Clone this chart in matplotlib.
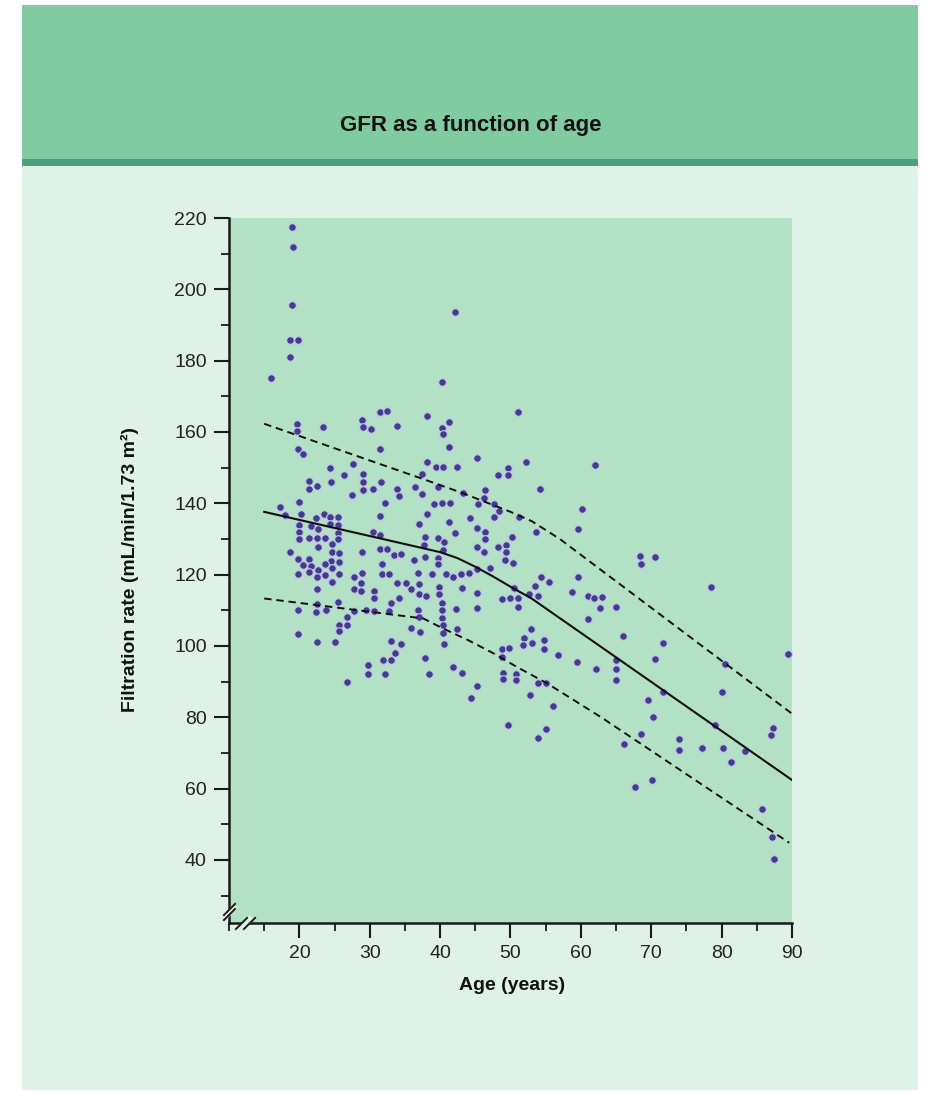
import matplotlib
matplotlib.use('Agg')
from matplotlib import pyplot as plt
from matplotlib.patches import Rectangle
from matplotlib.ticker import MultipleLocator

plt.rcParams['font.family'] = ['Liberation Sans', 'DejaVu Sans']

# scatter points: age (years) and GFR (mL/min/1.73 m2)
age = [
    19.0, 19.1, 19.0, 18.7, 19.8, 18.6, 16.0, 42.1,
    31.5, 32.5, 38.2, 19.7, 19.7, 23.3, 28.9, 29.0, 30.2, 33.9,
    19.8, 20.5, 31.5, 38.1, 27.6, 24.4, 26.4, 29.0, 29.0, 29.0,
    37.4, 21.3, 21.4, 22.5, 24.5, 31.6, 30.4, 33.9, 34.1, 36.4,
    37.4, 27.5, 19.9, 32.2, 17.3, 18.0, 20.2, 23.5, 22.3, 24.4,
    25.5, 24.4, 25.5, 31.5, 38.2, 19.9, 19.9, 19.9, 21.7, 22.6,
    25.5, 37.0, 30.5, 31.5, 21.4, 22.5, 23.6, 25.5, 37.8,
    24.7, 22.6, 31.4, 32.5, 37.7, 18.6, 28.9, 24.7, 25.6, 33.5,
    34.4, 19.8, 21.4, 36.3, 37.8, 24.5, 25.6, 20.5, 21.6, 23.6,
    31.7, 24.7, 21.4, 22.6, 19.8, 23.7, 22.5, 25.6, 27.7, 28.9,
    31.7, 32.8, 36.9, 24.6, 28.7, 33.9, 35.1, 37.0, 22.5, 27.7,
    28.7, 30.6, 35.9, 37.0, 38.0, 30.6, 34.2, 25.5, 22.5, 33.0,
    19.8, 22.4, 23.8, 27.8, 29.4, 30.6, 32.8, 36.9, 37.0, 26.7,
    25.6, 26.7, 25.7, 35.9, 37.1, 19.8, 22.5, 25.1, 33.0, 34.5,
    33.6, 31.9, 33.0, 37.8, 29.7, 29.7, 32.2, 38.4, 26.7,
    40.2, 51.1, 41.3, 40.2, 40.4, 41.3, 45.3, 39.4, 40.4, 42.4,
    52.2, 62.0, 49.6, 49.7, 48.2, 39.7, 43.2, 46.4, 46.3, 45.4,
    54.2, 39.2, 40.2, 41.4, 47.6, 48.3, 60.2, 44.3, 47.7, 51.2,
    41.3, 45.3, 46.4, 46.4, 42.1, 53.6, 59.6, 50.2, 39.7, 40.6,
    40.4, 45.3, 48.2, 49.3, 49.3, 46.3,
    49.2, 50.3, 39.7, 39.7, 47.1, 38.8, 40.8, 41.9, 43.0, 44.1,
    45.3, 39.8, 39.8, 43.1, 45.3, 50.5, 48.8, 50.0, 51.1, 51.0,
    52.6, 53.9, 53.5, 54.4, 55.4, 59.6, 58.8, 61.0, 61.8, 62.7,
    40.3, 40.3, 40.3, 40.4, 40.4, 42.2, 45.2, 42.4, 61.0, 40.5,
    52.9, 51.9, 51.8, 53.1, 54.8, 54.8, 48.8, 49.8, 48.8, 56.8,
    59.5, 62.1, 41.9, 43.1, 49.0, 49.0, 50.8, 50.8, 53.9, 55.0,
    45.3, 44.4, 52.7, 56.1, 49.7, 55.0, 53.9,
    68.4, 68.6, 70.5, 63.0, 78.5,
    65.0, 66.0, 71.7, 89.4, 65.0, 65.0, 65.0, 70.6, 80.5, 71.6,
    80.0, 69.5, 70.3, 79.1, 87.3, 87.0, 68.5, 66.1, 73.9, 74.0,
    77.2, 80.2, 83.3, 81.4, 70.1, 67.7, 85.7, 87.1, 87.4,
]
gfr = [
    217.5, 211.8, 195.5, 185.8, 185.8, 180.9, 175.1, 193.6,
    165.7, 165.9, 164.5, 162.1, 160.4, 161.5, 163.4, 161.5, 160.7, 161.8,
    155.1, 153.7, 155.1, 151.7, 150.9, 149.8, 147.9, 148.1, 145.9, 143.7,
    148.2, 146.3, 144.1, 144.9, 146.0, 146.1, 144.0, 144.1, 142.1, 144.5,
    142.5, 142.2, 140.4, 140.2, 139.0, 136.7, 137.0, 137.1, 136.0, 136.2,
    136.2, 134.2, 133.9, 136.4, 137.0, 133.9, 132.0, 129.9, 133.6, 132.7,
    131.8, 134.2, 132.0, 131.1, 130.2, 130.2, 130.2, 129.9, 130.6,
    128.5, 127.8, 127.1, 127.1, 128.3, 126.4, 126.4, 126.2, 126.0, 125.5,
    125.8, 124.3, 124.3, 124.1, 125.0, 123.9, 123.5, 122.6, 122.4, 122.9,
    123.1, 121.8, 120.8, 121.3, 120.2, 119.8, 119.3, 120.1, 119.4, 120.4,
    120.1, 120.1, 120.4, 118.0, 117.6, 117.7, 117.7, 117.4, 115.9, 116.0,
    115.4, 115.5, 115.9, 114.5, 114.0, 113.3, 113.5, 112.2, 111.7, 112.0,
    110.1, 109.6, 110.0, 109.8, 110.1, 109.8, 109.8, 110.1, 108.0, 108.0,
    105.9, 105.9, 104.3, 105.1, 104.0, 103.3, 101.2, 101.2, 101.4, 100.5,
    97.9, 96.1, 96.1, 96.5, 94.7, 92.1, 92.1, 92.1, 90.0,
    174.1, 165.5, 162.7, 161.0, 159.3, 155.9, 152.8, 150.1, 150.1, 150.1,
    151.5, 150.7, 150.0, 147.9, 147.9, 144.5, 143.0, 143.7, 141.4, 139.7,
    144.0, 139.7, 140.2, 140.0, 139.7, 137.9, 138.5, 136.0, 136.1, 136.1,
    134.8, 133.0, 131.9, 129.9, 131.6, 132.0, 132.9, 130.5, 130.2, 129.1,
    126.9, 127.8, 127.8, 128.2, 126.2, 126.2,
    124.1, 123.3, 124.6, 122.9, 121.9, 120.2, 120.2, 119.3, 120.2, 120.5,
    121.5, 116.6, 114.5, 116.3, 114.8, 116.2, 113.2, 113.5, 113.5, 111.0,
    114.5, 114.0, 116.9, 119.4, 118.0, 119.4, 115.2, 114.0, 113.5, 110.7,
    112.0, 110.1, 107.8, 105.9, 103.7, 110.4, 110.6, 104.7, 107.6, 100.5,
    104.8, 102.3, 100.3, 100.8, 101.7, 99.2, 99.2, 99.4, 96.8, 97.5,
    95.6, 93.5, 94.2, 92.5, 92.5, 90.7, 92.1, 90.5, 89.7, 89.7,
    88.9, 85.5, 86.3, 83.2, 77.7, 76.8, 74.3,
    125.3, 123.0, 124.9, 113.8, 116.5,
    110.8, 102.9, 100.8, 97.8, 96.1, 93.5, 90.5, 96.4, 94.9, 87.0,
    87.1, 84.9, 80.0, 77.8, 77.1, 75.0, 75.3, 72.5, 73.8, 70.8,
    71.4, 71.4, 70.4, 67.5, 62.4, 60.4, 54.4, 46.5, 40.2,
]

# fitted mean and the two dashed bounds
mean_age = [15, 40, 42.5, 45, 47.5, 50, 53, 90]
mean_gfr = [137.6, 126.3, 124.6, 122.2, 119.5, 116.6, 113.3, 62.4]
upper_age = [15, 37, 43, 50, 53, 57, 90]
upper_gfr = [162.3, 147.2, 143.0, 137.6, 135.0, 130.0, 81.0]
lower_age = [15, 37.6, 40.4, 44, 47.6, 51, 55.2, 62.8, 89.6]
lower_gfr = [113.3, 107.7, 104.9, 101.6, 97.9, 94.0, 89.5, 80.1, 44.8]

x_ticks = [20, 30, 40, 50, 60, 70, 80, 90]
y_ticks = [40, 60, 80, 100, 120, 140, 160, 180, 200, 220]

title = 'GFR as a function of age'
x_label = 'Age (years)'
y_label = 'Filtration rate (mL/min/1.73 m\u00b2)'

W, H = 928, 1093
PANEL = '#dff2e7'


def px_box(x0, y0, x1, y1):
    # pixel box (top-left origin) -> figure fraction rect
    return (x0 / W, 1 - y1 / H, (x1 - x0) / W, (y1 - y0) / H)


fig = plt.figure(figsize=(W / 100, H / 100), dpi=100)
fig.patch.set_facecolor('white')

# background panels
for box, col in [((22, 166, 918, 1090), PANEL),
                 ((22, 5, 918, 160), '#80cba2'),
                 ((22, 159, 918, 166), '#4b9f7b')]:
    x, y, w, h = px_box(*box)
    fig.add_artist(Rectangle((x, y), w, h, transform=fig.transFigure,
                             facecolor=col, edgecolor='none', zorder=-5))

fig.text(471 / W, 1 - 125 / H, title, ha='center', va='center',
         fontsize=16, fontweight='bold', color='#111111')

ax = fig.add_axes(px_box(229, 218, 792, 923))
ax.set_facecolor('#b2e1c6')

ax.scatter(age, gfr, s=30, c='#3f3d8c', edgecolors='#c8c4ea',
           linewidths=0.8, zorder=3)
ax.plot(mean_age, mean_gfr, color='#111111', lw=1.5, zorder=4)
ax.plot(upper_age, upper_gfr, color='#111111', lw=1.4, dashes=(3.8, 2.5), zorder=4)
ax.plot(lower_age, lower_gfr, color='#111111', lw=1.4, dashes=(3.8, 2.5), zorder=4)

ax.set_xlim(10, 90)
ax.set_ylim(22.3, 220)
ax.set_xticks(x_ticks)
ax.set_yticks(y_ticks)
ax.xaxis.set_minor_locator(MultipleLocator(5))
ax.yaxis.set_minor_locator(MultipleLocator(10))

for s in ['top', 'right']:
    ax.spines[s].set_visible(False)
for s in ['left', 'bottom']:
    ax.spines[s].set_linewidth(1.8)
    ax.spines[s].set_color('#1a1a1a')

ax.tick_params(which='major', length=11, width=1.5, direction='out',
               labelsize=14, pad=5, colors='#1a1a1a', labelcolor='#222222')
ax.tick_params(which='minor', length=6, width=1.3, direction='out',
               colors='#1a1a1a')

# axis break marks (//) on both spines near the corner
brk = [(-1, -1), (1, 1)]
kw = dict(marker=brk, markersize=9, linestyle='none', clip_on=False,
          transform=ax.transAxes, zorder=6)
ax.plot([0], [0.016], mec=PANEL, mew=4, **kw)
ax.plot([0, 0], [0.0125, 0.0205], mec='#1a1a1a', mew=1.4, **kw)
ax.plot([0.0285], [0], mec=PANEL, mew=4, **kw)
ax.plot([0.022, 0.035], [0, 0], mec='#1a1a1a', mew=1.4, **kw)

fig.text(512 / W, 1 - 985 / H, x_label, ha='center', va='center',
         fontsize=14, fontweight='bold', color='#111111')
fig.text(130 / W, 1 - 570 / H, y_label, ha='center', va='center',
         rotation=90, fontsize=14, fontweight='bold', color='#111111')

plt.savefig('out.png', dpi=100)
